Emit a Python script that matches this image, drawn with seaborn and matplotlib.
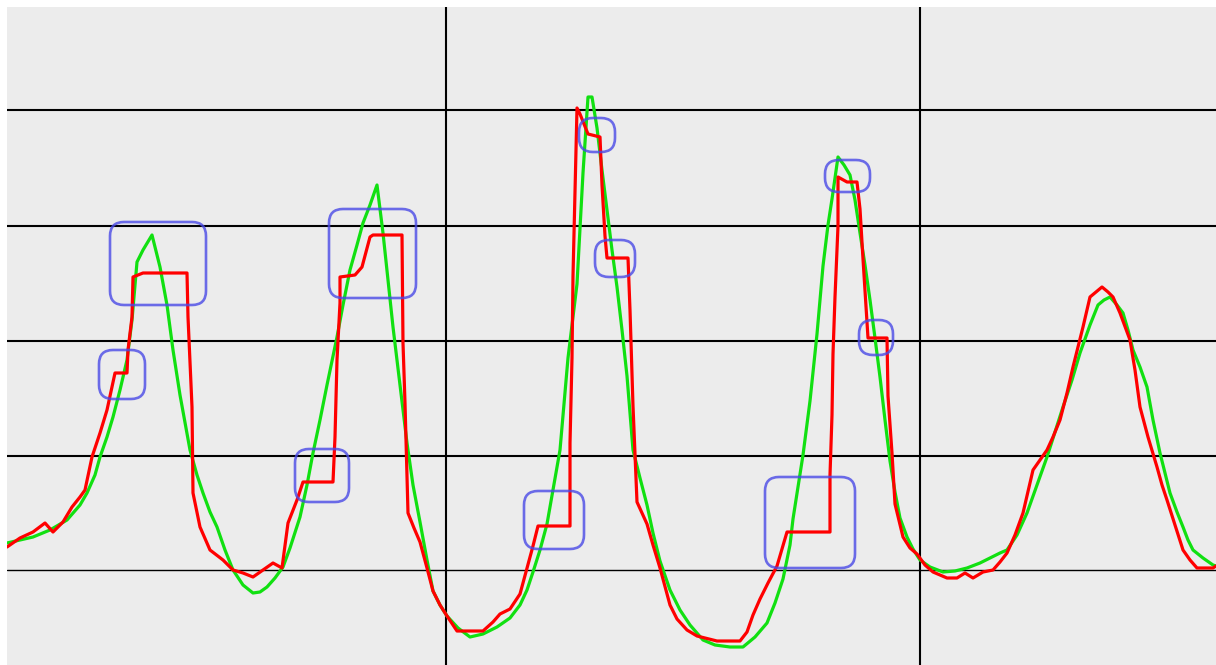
import matplotlib
matplotlib.use("Agg")
import matplotlib.pyplot as plt
from matplotlib.patches import FancyBboxPatch
import seaborn as sns
import pandas as pd

# ---- data (x position, level; level axis is inverted) ----
green_x = [7, 20, 33, 50, 67, 80, 87, 95, 100, 107, 113, 120, 127, 132, 137, 143, 152, 160, 167, 173,
           180, 190, 197, 203, 210, 217, 225, 233, 243, 253, 260, 267, 275, 283, 290, 300, 307, 313, 320, 327,
           337, 343, 350, 357, 363, 370, 377, 383, 388, 393, 400, 407, 413, 420, 427, 433, 440, 447, 458, 470,
           483, 497, 510, 520, 527, 533, 540, 547, 553, 560, 568, 577, 583, 588, 592, 597, 602, 607, 612, 617,
           622, 627, 633, 640, 647, 653, 660, 670, 680, 690, 703, 715, 730, 743, 755, 767, 775, 783, 790, 793,
           803, 810, 817, 823, 828, 832, 838, 844, 850, 855, 860, 865, 870, 875, 880, 885, 890, 895, 900, 907,
           913, 920, 930, 943, 955, 967, 980, 990, 1000, 1007, 1017, 1027, 1037, 1047, 1055, 1063, 1072, 1080, 1090, 1098,
           1104, 1110, 1117, 1123, 1128, 1133, 1140, 1147, 1153, 1160, 1165, 1170, 1177, 1183, 1188, 1193, 1203, 1213, 1216]
green_y = [543, 540, 537, 530, 520, 505, 493, 475, 457, 437, 417, 390, 360, 320, 262, 250, 235, 267, 305, 350,
           395, 450, 475, 493, 512, 527, 550, 570, 585, 593, 592, 587, 578, 567, 548, 517, 485, 453, 420, 385,
           337, 305, 270, 245, 223, 205, 185, 233, 280, 327, 385, 443, 485, 522, 560, 591, 605, 616, 628, 637,
           634, 627, 618, 605, 590, 572, 550, 524, 490, 450, 358, 284, 173, 97, 97, 128, 170, 210, 250, 287,
           330, 376, 450, 478, 505, 533, 561, 590, 610, 625, 640, 645, 647, 647, 637, 623, 603, 579, 545, 519,
           455, 401, 334, 266, 225, 199, 157, 165, 175, 200, 233, 265, 300, 338, 377, 420, 461, 492, 518, 537,
           549, 560, 567, 572, 571, 568, 563, 558, 553, 550, 535, 513, 485, 457, 432, 407, 380, 353, 325, 305,
           300, 297, 305, 313, 330, 350, 367, 387, 420, 453, 473, 493, 512, 527, 540, 550, 558, 565, 566]

red_x = [7, 20, 33, 45, 53, 63, 72, 80, 85, 92, 100, 107, 115, 127, 128, 132, 133, 143, 187, 188,
         192, 193, 200, 210, 223, 233, 243, 253, 263, 273, 282, 288, 297, 303, 333, 335, 337, 340, 340, 355,
         362, 370, 373, 402, 403, 405, 408, 414, 420, 427, 433, 440, 447, 457, 470, 483, 493, 500, 510, 520,
         527, 533, 538, 570, 570, 572, 573, 575, 577, 580, 588, 600, 602, 605, 607, 628, 630, 633, 635, 637,
         647, 653, 660, 670, 677, 687, 697, 717, 740, 747, 753, 760, 768, 777, 787, 830, 830, 832, 833, 835,
         838, 838, 847, 857, 860, 863, 868, 887, 888, 892, 895, 903, 910, 917, 925, 933, 947, 957, 965, 973,
         983, 993, 1000, 1007, 1015, 1023, 1033, 1040, 1047, 1053, 1060, 1067, 1073, 1078, 1083, 1090, 1096, 1102, 1108, 1113,
         1120, 1130, 1135, 1140, 1148, 1157, 1162, 1167, 1175, 1183, 1190, 1197, 1213, 1216]
red_y = [547, 538, 532, 523, 532, 522, 507, 497, 490, 457, 433, 410, 373, 373, 350, 317, 277, 273, 273, 317,
         407, 493, 527, 550, 560, 570, 573, 577, 570, 563, 568, 523, 500, 482, 482, 437, 360, 303, 277, 275,
         267, 237, 235, 235, 343, 403, 513, 528, 542, 568, 591, 605, 616, 631, 631, 631, 622, 614, 609, 594,
         568, 546, 526, 526, 443, 358, 276, 191, 108, 114, 134, 137, 185, 236, 258, 258, 310, 406, 454, 502,
         524, 545, 568, 605, 619, 630, 636, 641, 641, 632, 615, 599, 583, 566, 532, 532, 475, 415, 354, 297,
         226, 177, 182, 182, 209, 259, 338, 338, 396, 453, 504, 537, 548, 554, 565, 572, 578, 578, 573, 578,
         572, 570, 562, 553, 535, 513, 470, 460, 450, 437, 420, 393, 367, 347, 327, 297, 292, 287, 292, 297,
         313, 340, 370, 407, 437, 467, 485, 500, 525, 550, 560, 568, 568, 566]

# highlight boxes: left, top, right, bottom
box_left = [110, 99, 329, 295, 524, 579, 595, 765, 825, 859]
box_top = [222, 350, 209, 449, 491, 118, 240, 477, 160, 320]
box_right = [206, 145, 416, 349, 584, 615, 635, 855, 870, 893]
box_bottom = [305, 399, 298, 502, 549, 152, 277, 568, 192, 355]

h_grid = [110, 226, 341, 456, 570]
v_grid = [446, 920]

# ---- figure ----
sns.set_theme(style="white")
W, H = 1216, 665
fig = plt.figure(figsize=(W / 100, H / 100), dpi=100)
fig.patch.set_facecolor("white")
ax = fig.add_axes([7 / W, 0, (W - 7) / W, (H - 7) / H])
ax.set_facecolor("#ececec")

df_g = pd.DataFrame({"x": green_x, "y": green_y})
df_r = pd.DataFrame({"x": red_x, "y": red_y})

for yv in h_grid:
    ax.axhline(yv, color="black", lw=1.0 if yv == 570 else 1.5, zorder=1)
for xv in v_grid:
    ax.axvline(xv, color="black", lw=1.5, zorder=1)

sns.lineplot(data=df_g, x="x", y="y", sort=False, estimator=None, color="#11e011",
             lw=2.3, ax=ax, zorder=3)
sns.lineplot(data=df_r, x="x", y="y", sort=False, estimator=None, color="#ff0000",
             lw=2.3, ax=ax, zorder=4)

for l, t, r, b in zip(box_left, box_top, box_right, box_bottom):
    rad = min(14, (r - l) / 2.2, (b - t) / 2.2)
    p = FancyBboxPatch((l, t), r - l, b - t,
                       boxstyle=f"round,pad=0,rounding_size={rad}",
                       fill=False, edgecolor="#4a4ae6", alpha=0.8, lw=1.9, zorder=5)
    ax.add_patch(p)

ax.set_xlim(7, W)
ax.set_ylim(H, 7)
ax.set_xticks([])
ax.set_yticks([])
ax.set_xlabel("")
ax.set_ylabel("")
for s in ax.spines.values():
    s.set_visible(False)

fig.savefig("out.png", dpi=100, facecolor="white")
